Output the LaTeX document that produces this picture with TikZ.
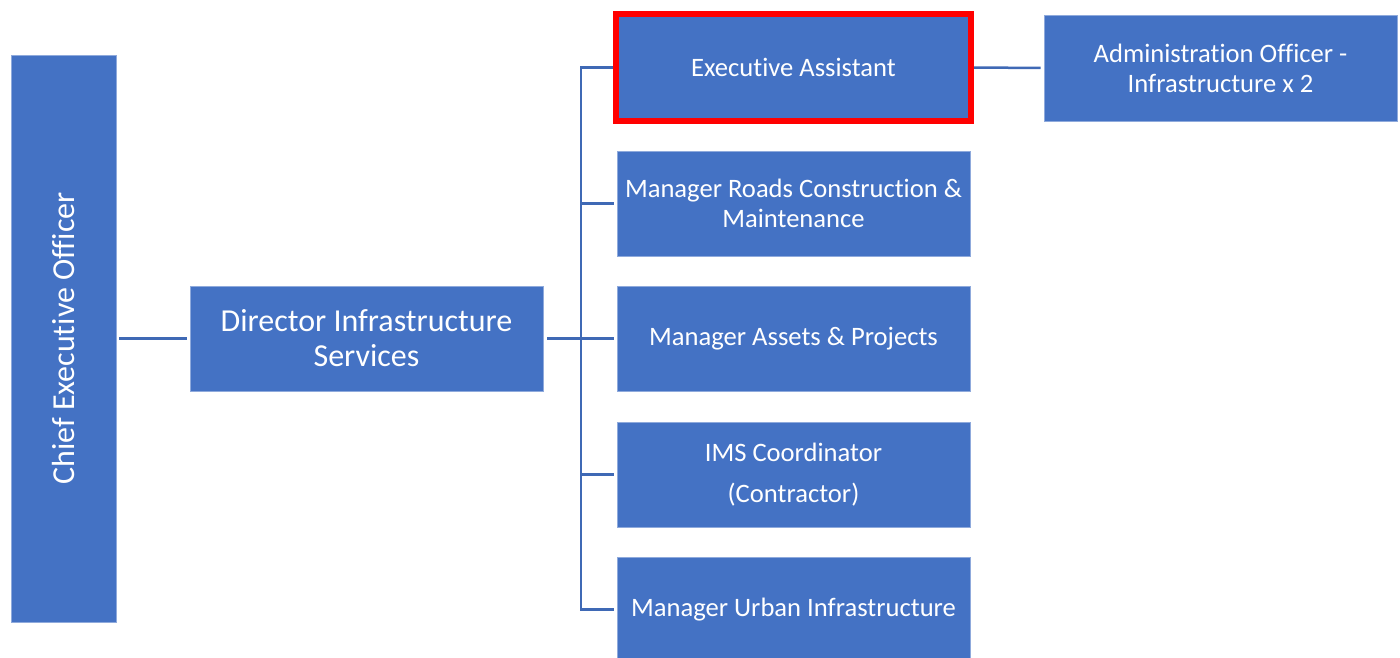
\documentclass[tikz,border=0pt]{standalone}
\usepackage{fontspec}
\setmainfont[Ligatures=NoCommon]{Carlito}
\definecolor{boxblue}{HTML}{4472C4}
\definecolor{boxedge}{HTML}{8FAADC}
\definecolor{lineblue}{HTML}{3F69B5}
\definecolor{hilite}{HTML}{FF0000}
\begin{document}
\begin{tikzpicture}[x=1pt,y=-1pt,
  orgbox/.style={fill=boxblue, draw=boxedge, line width=0.6pt, text=white,
    align=center, inner sep=0pt, minimum width=353pt, minimum height=105pt,
    font=\fontsize{26.6}{30}\selectfont},
  bigbox/.style={orgbox, font=\fontsize{32}{35}\selectfont},
  conn/.style={draw=lineblue, line width=2.5pt},
]
\useasboundingbox (0,0) rectangle (1400,657);

% boxes
\node[bigbox, rotate=90, minimum width=567pt, minimum height=105pt] (ceo) at (63.5,338.5) {Chief Executive Officer};
\node[bigbox] (dir) at (366.5,338.5) {Director Infrastructure\\Services};
\node[orgbox, draw=hilite, line width=6pt, minimum width=355pt, minimum height=107pt] (ea) at (793.5,67.5) {Executive Assistant};
\node[orgbox, minimum height=106pt] (admin) at (1220.5,68) {Administration Officer -\\Infrastructure x 2};
\node[orgbox] (roads) at (793.5,203.5) {Manager Roads Construction \&\\Maintenance};
\node[orgbox] (assets) at (793.5,338.5) {Manager Assets \& Projects};
\node[orgbox] (ims) at (793.5,474.5) {IMS Coordinator\\[11pt](Contractor)};
\node[orgbox] (urban) at (793.5,609.5) {Manager Urban Infrastructure};

% connectors
\coordinate (bus) at (581,0);
\draw[conn, shorten <=3pt, shorten >=3pt] (ceo.south) -- (dir.west);
\draw[conn, shorten <=4pt, shorten >=3pt] (dir.east) -- (assets.west);
\draw[conn] (ea.west) -- (ea.west -| bus) -- (urban.west -| bus) -- ([xshift=-3pt]urban.west);
\draw[conn] (roads.west -| bus) -- ([xshift=-3pt]roads.west);
\draw[conn] (ims.west -| bus) -- ([xshift=-3pt]ims.west);
\draw[conn, shorten >=3pt] (ea.east) -- (admin.west);
\end{tikzpicture}
\end{document}
